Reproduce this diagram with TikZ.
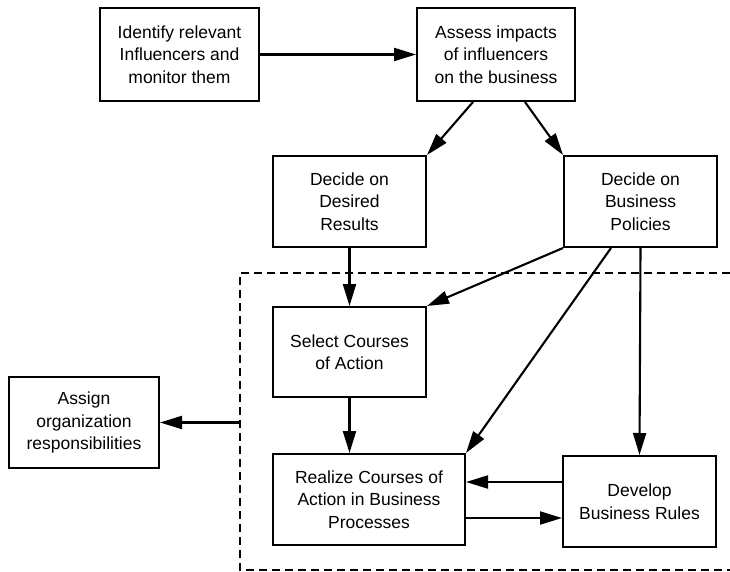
\documentclass[tikz,border=0pt]{standalone}
\usepackage{fontspec}
\setmainfont{Liberation Sans}
\usetikzlibrary{arrows.meta,calc}
\begin{document}
\begin{tikzpicture}[x=1pt,y=-1pt,
  box/.style={draw,line width=2pt,inner sep=0pt,align=center,
    font=\fontsize{17.5}{22.5}\selectfont},
  arr/.style={line width=2.1pt,-{Triangle[length=22pt,width=13pt]}},
  dashline/.style={line width=1.8pt,dash pattern=on 8pt off 5pt}]
\useasboundingbox (0,0) rectangle (730,572);
\node[box,minimum width=159pt,minimum height=93pt] (b1) at (179.5,54.5) {Identify relevant\\Influencers and\\monitor them};
\node[box,minimum width=158pt,minimum height=93pt] (b2) at (496,54.5) {Assess impacts\\of influencers\\on the business};
\node[box,minimum width=153pt,minimum height=91pt] (b3) at (349.5,201.5) {Decide on\\Desired\\Results};
\node[box,minimum width=153pt,minimum height=91pt] (b4) at (640.5,201.5) {Decide on\\Business\\Policies};
\node[box,minimum width=153pt,minimum height=90pt] (b5) at (349.5,352) {Select Courses\\of Action};
\node[box,minimum width=150pt,minimum height=91pt] (b6) at (84,422.5) {Assign\\organization\\responsibilities};
\node[box,minimum width=192pt,minimum height=91pt] (b7) at (369,499.5) {Realize Courses of\\Action in Business\\Processes};
\node[box,minimum width=153pt,minimum height=91pt] (b8) at (639.5,501.5) {Develop\\Business Rules};
\draw[dashline] (730,273) -- (240,273) -- (240,570) -- (730,570);
\coordinate (dl) at (240,422.5);
\draw[arr] (b1.east) -- (b2.west);
\draw[arr] ([xshift=-23pt]b2.south) -- (b3.north east);
\draw[arr] ([xshift=29pt]b2.south) -- (b4.north west);
\draw[arr] (b3.south) -- (b5.north);
\draw[arr] (b4.south west) -- (b5.north east);
\draw[arr] ([xshift=-29.5pt]b4.south) -- (b7.north east);
\draw[arr] (b4.south) -- (b8.north);
\draw[arr] (b5.south) -- (b7.north -| b5.south);
\draw[arr] ([yshift=19.5pt]b8.west) -- ([yshift=19.5pt]b8.west -| b7.east);
\draw[arr] ([yshift=-16.5pt]b8.west -| b7.east) -- ([yshift=-16.5pt]b8.west);
\draw[arr] (dl) -- (b6.east);
\end{tikzpicture}
\end{document}
